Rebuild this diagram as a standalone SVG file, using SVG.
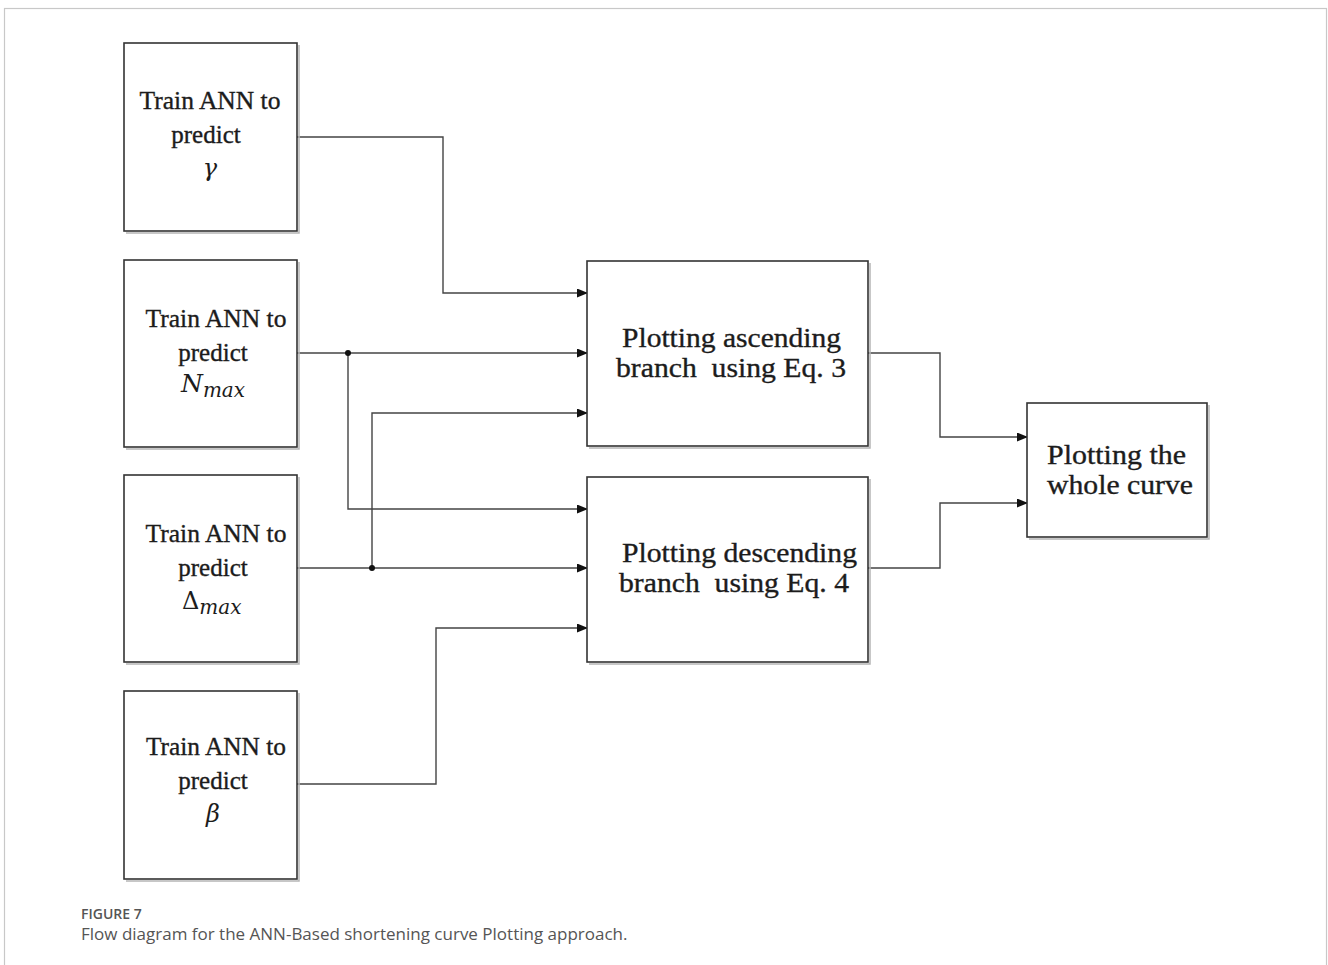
<svg xmlns="http://www.w3.org/2000/svg" width="1328" height="965" viewBox="0 0 1328 965">
  <defs>
    <marker id="arr" markerWidth="11" markerHeight="9" refX="10" refY="4.5" orient="auto" markerUnits="userSpaceOnUse">
      <path d="M0,0 L11,4.5 L0,9 Z" fill="#111"/>
    </marker>
  </defs>
  <style>
    .box { fill: #fff; stroke: #333; stroke-width: 1.6; }
    .shadow { fill: none; stroke: #b5b5b5; stroke-width: 1.5; }
    .t { font-family: "Liberation Serif", "Times New Roman", serif; font-size: 25px; fill: #1c1c1c; stroke: #1c1c1c; stroke-width: 0.35; text-anchor: middle; }
    .tb { font-family: "Liberation Serif", "Times New Roman", serif; font-size: 27px; fill: #1c1c1c; stroke: #1c1c1c; stroke-width: 0.35; white-space: pre; }
    .m { font-family: "DejaVu Serif", "Liberation Serif", serif; font-style: italic; fill: #1c1c1c; }
    .c { fill: none; stroke: #444; stroke-width: 1.4; }
    .cap1 { font-family: "Open Sans", "Noto Sans", sans-serif; font-size: 14px; font-weight: 600; fill: #555; }
    .cap2 { font-family: "Open Sans", "Noto Sans", sans-serif; font-size: 17px; fill: #555; }
  </style>
  <rect x="0" y="0" width="1328" height="965" fill="#fff"/>
  <rect x="4.5" y="8.5" width="1322" height="980" fill="none" stroke="#c8c8c8" stroke-width="1.2"/>

  <g id="connectors">
    <path class="c" d="M297,137 H443 V293 H587" marker-end="url(#arr)"/>
    <path class="c" d="M297,353 H587" marker-end="url(#arr)"/>
    <path class="c" d="M348,353 V509 H587" marker-end="url(#arr)"/>
    <path class="c" d="M297,568 H587" marker-end="url(#arr)"/>
    <path class="c" d="M372,568 V413 H587" marker-end="url(#arr)"/>
    <path class="c" d="M297,784 H436 V628 H587" marker-end="url(#arr)"/>
    <path class="c" d="M868,353 H940 V437 H1027" marker-end="url(#arr)"/>
    <path class="c" d="M868,568 H940 V503 H1027" marker-end="url(#arr)"/>
    <circle cx="348" cy="353" r="3" fill="#111"/>
    <circle cx="372" cy="568" r="3" fill="#111"/>
  </g>

  <g id="node-gamma">
    <path class="shadow" d="M299,45 V233 H126"/>
    <rect class="box" x="124" y="43" width="173" height="188"/>
    <text class="t" x="210" y="109" textLength="141" lengthAdjust="spacingAndGlyphs">Train ANN to</text>
    <text class="t" x="206" y="143">predict</text>
    <text class="m" x="210" y="176" font-size="24" text-anchor="middle">γ</text>
  </g>

  <g id="node-nmax">
    <path class="shadow" d="M299,262 V449 H126"/>
    <rect class="box" x="124" y="260" width="173" height="187"/>
    <text class="t" x="216" y="327" textLength="141" lengthAdjust="spacingAndGlyphs">Train ANN to</text>
    <text class="t" x="213" y="361">predict</text>
    <text class="m" x="181" y="392" font-size="25">N<tspan font-size="20" dy="5">max</tspan></text>
  </g>

  <g id="node-dmax">
    <path class="shadow" d="M299,477 V664 H126"/>
    <rect class="box" x="124" y="475" width="173" height="187"/>
    <text class="t" x="216" y="542" textLength="141" lengthAdjust="spacingAndGlyphs">Train ANN to</text>
    <text class="t" x="213" y="576">predict</text>
    <text class="m" x="182" y="609" font-size="24"><tspan font-style="normal">Δ</tspan><tspan font-size="20" dy="5">max</tspan></text>
  </g>

  <g id="node-beta">
    <path class="shadow" d="M299,693 V881 H126"/>
    <rect class="box" x="124" y="691" width="173" height="188"/>
    <text class="t" x="216" y="755" textLength="140" lengthAdjust="spacingAndGlyphs">Train ANN to</text>
    <text class="t" x="213" y="789">predict</text>
    <text class="m" x="213" y="822" font-size="24" text-anchor="middle">β</text>
  </g>

  <g id="node-ascending">
    <path class="shadow" d="M870,263 V448 H589"/>
    <rect class="box" x="587" y="261" width="281" height="185"/>
    <text class="tb" x="622" y="347" textLength="219" lengthAdjust="spacingAndGlyphs">Plotting ascending</text>
    <text class="tb" x="616" y="377" textLength="230" lengthAdjust="spacingAndGlyphs" xml:space="preserve">branch  using Eq. 3</text>
  </g>

  <g id="node-descending">
    <path class="shadow" d="M870,479 V664 H589"/>
    <rect class="box" x="587" y="477" width="281" height="185"/>
    <text class="tb" x="622" y="562" textLength="235" lengthAdjust="spacingAndGlyphs">Plotting descending</text>
    <text class="tb" x="619" y="592" textLength="230" lengthAdjust="spacingAndGlyphs" xml:space="preserve">branch  using Eq. 4</text>
  </g>

  <g id="node-whole">
    <path class="shadow" d="M1209,405 V539 H1029"/>
    <rect class="box" x="1027" y="403" width="180" height="134" stroke-width="2" stroke="#222"/>
    <text class="tb" x="1047" y="464" textLength="139" lengthAdjust="spacingAndGlyphs">Plotting the</text>
    <text class="tb" x="1047" y="494" textLength="146" lengthAdjust="spacingAndGlyphs">whole curve</text>
  </g>

  <g id="caption">
    <text class="cap1" x="81" y="919">FIGURE 7</text>
    <text class="cap2" x="81" y="940">Flow diagram for the ANN-Based shortening curve Plotting approach.</text>
  </g>
</svg>
